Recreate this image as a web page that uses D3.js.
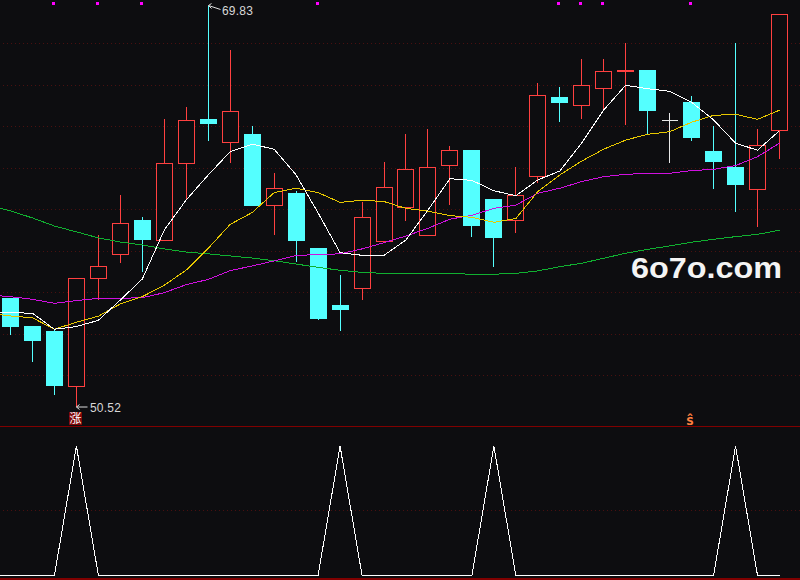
<!DOCTYPE html>
<html>
<head>
<meta charset="utf-8">
<script src="https://cdn.jsdelivr.net/npm/d3@7/dist/d3.min.js"></script>
<style>
html,body{margin:0;padding:0;background:#0d0d10;overflow:hidden;}
svg{display:block;}
</style>
</head>
<body>
<svg width="800" height="580"></svg>
<script>
const opens=[55.70,54.39,54.11,51.47,56.68,57.83,59.50,58.51,62.21,64.36,63.22,63.64,60.19,60.80,58.15,55.36,56.19,58.46,60.09,58.75,62.14,62.87,60.47,59.47,61.59,65.42,65.01,65.82,66.63,66.72,64.30,65.18,62.82,62.05,60.96,63.80];
const highs=[55.70,54.39,54.23,56.70,58.78,60.71,59.65,64.41,64.99,69.83,67.69,64.03,61.77,60.90,58.15,56.90,60.37,62.30,63.69,63.93,63.10,62.87,60.47,62.10,66.10,65.91,67.30,67.30,68.07,66.72,64.70,65.52,64.03,68.03,63.93,69.41];
const lows=[54.01,52.68,51.08,50.52,55.69,57.45,57.01,58.51,60.56,63.32,62.25,60.22,58.79,57.48,54.69,54.17,55.69,58.46,59.50,58.75,60.27,58.73,57.24,58.88,61.33,64.22,64.41,64.80,64.12,63.69,62.25,63.35,61.04,59.89,59.21,62.44];
const closes=[54.35,53.68,51.52,56.70,57.25,59.34,58.54,62.23,64.30,64.17,64.74,60.22,61.03,58.51,54.74,55.17,59.63,61.08,61.94,62.04,62.86,59.26,58.64,60.69,65.51,65.14,65.99,66.66,66.72,64.75,64.30,63.45,62.34,61.19,63.10,69.41];

// moving averages: first value sits one bar left of the screen
const ma5=[55.04,55.04,55.01,54.24,54.37,54.67,55.65,56.66,59.02,60.47,61.67,62.79,63.15,62.91,61.67,59.84,57.93,57.80,57.80,58.54,59.98,61.49,61.41,60.91,60.67,61.43,61.86,63.21,64.80,65.99,65.82,65.70,65.17,64.32,63.20,62.86,63.80];
const ma10=[55.02,54.88,54.79,54.24,54.58,54.87,55.46,55.81,56.36,57.09,58.14,59.29,59.86,60.82,61.03,60.82,60.35,60.45,60.39,60.06,59.93,59.71,59.63,59.39,59.57,60.87,61.67,62.34,62.91,63.35,63.63,63.75,64.21,64.54,64.59,64.35,64.79];
const ma20=[55.89,55.81,55.68,55.49,55.62,55.73,55.73,55.76,56.00,56.39,56.64,57.06,57.29,57.53,57.79,57.84,57.87,58.11,58.41,58.73,59.10,59.54,59.73,60.06,60.22,60.79,61.03,61.35,61.59,61.70,61.75,61.75,61.88,61.94,62.12,62.55,63.20];
const ma60=[60.22,59.94,59.60,59.21,58.93,58.64,58.44,58.30,58.11,57.96,57.87,57.77,57.67,57.54,57.38,57.22,57.08,56.98,56.93,56.93,56.90,56.92,56.89,56.89,56.93,57.05,57.25,57.42,57.66,57.90,58.09,58.25,58.43,58.57,58.70,58.81,59.01];

// lower panel signal, same leading value
const signal=[0,0,0,0,1,0,0,0,0,0,0,0,0,0,0,0,1,0,0,0,0,0,0,1,0,0,0,0,0,0,0,0,0,0,1,0,0];

const priceGrid=[52,54,56,58,60,62,64,66,68];
const signalGrid=[0.5];
const dotBars=[2,4,6,14,25,26,27,31];
const bg='#0d0d10', up='#ff4040', down='#54ffff';

const svg=d3.select('svg');
const xScale=d3.scaleLinear().domain([0,35]).range([10.5,779.5]);
const yScale=d3.scaleLinear().domain([50.52,69.83]).range([406.5,5.5]);
const ySignal=d3.scaleLinear().domain([0,1]).range([575.5,446]);

// snap to pixel centres so the marks stay aliased like the screenshot
const px=v=>Math.floor(v)+0.5;
const bx=i=>px(xScale(i));
const by=v=>px(yScale(v));

const dotted=(g,vals,scale)=>g.selectAll('line').data(vals).enter().append('line')
     .attr('x1',3).attr('x2',800)
     .attr('y1',d=>px(scale(d))).attr('y2',d=>px(scale(d)))
     .attr('stroke','#4a1010')
     .attr('stroke-dasharray','1 3');

const root=svg.append('g').attr('shape-rendering','crispEdges');
root.append('rect').attr('width',800).attr('height',580).attr('fill',bg);
dotted(root.append('g'),priceGrid,yScale);
dotted(root.append('g'),signalGrid,ySignal);

// panel borders
root.append('line').attr('x1',0).attr('x2',800).attr('y1',426.5).attr('y2',426.5).attr('stroke','#800000');
root.append('line').attr('x1',0).attr('x2',800).attr('y1',578.5).attr('y2',578.5).attr('stroke','#800000').attr('stroke-width',2);

/* candles */
const candleColor=i=>closes[i]>opens[i]?up:(closes[i]<opens[i]?down:'#e8e8e8');
const bars=root.append('g').selectAll('g').data(d3.range(opens.length)).enter().append('g');

bars.append('line')
     .attr('x1',bx).attr('x2',bx)
     .attr('y1',i=>by(highs[i])).attr('y2',i=>by(d3.max([opens[i],closes[i]])))
     .attr('stroke',candleColor);
bars.append('line')
     .attr('x1',bx).attr('x2',bx)
     .attr('y1',i=>by(d3.min([opens[i],closes[i]]))).attr('y2',i=>by(lows[i]))
     .attr('stroke',candleColor);

bars.filter(i=>closes[i]>opens[i]).append('rect')
     .attr('x',i=>bx(i)-8).attr('width',16)
     .attr('y',i=>by(closes[i])).attr('height',i=>by(opens[i])-by(closes[i]))
     .attr('fill',bg).attr('stroke',up);
bars.filter(i=>closes[i]<opens[i]).append('rect')
     .attr('x',i=>bx(i)-8.5).attr('width',17)
     .attr('y',i=>by(opens[i])-0.5).attr('height',i=>by(closes[i])-by(opens[i])+1)
     .attr('fill',down);
bars.filter(i=>closes[i]===opens[i]).append('line')
     .attr('x1',i=>bx(i)-8).attr('x2',i=>bx(i)+8)
     .attr('y1',i=>by(opens[i])).attr('y2',i=>by(opens[i]))
     .attr('stroke',candleColor);

/* ma lines */
const maLine=d3.line().x((d,i)=>xScale(i-1)).y(d=>yScale(d));
const series=[[ma60,'#10b030'],[ma20,'#d010e0'],[ma10,'#e8c800'],[ma5,'#ffffff']];
root.append('g').selectAll('path').data(series).enter().append('path')
     .attr('d',d=>maLine(d[0]))
     .attr('fill','none')
     .attr('stroke',d=>d[1]);

/* lower panel */
const signalLine=d3.line().x((d,i)=>xScale(i-1)).y(d=>ySignal(d));
root.append('path')
     .attr('d',signalLine(signal))
     .attr('fill','none')
     .attr('stroke','#ffffff');

/* magenta markers along the top */
root.append('g').selectAll('rect').data(dotBars).enter().append('rect')
     .attr('x',i=>bx(i)-2.5).attr('y',2).attr('width',3).attr('height',3)
     .attr('fill','#ff00ff');

/* high / low labels */
const hiX=bx(9), loX=bx(3);
const lab=svg.append('g');
const leader=(x1,y1,x2,y2)=>lab.append('line')
     .attr('x1',x1).attr('y1',y1).attr('x2',x2).attr('y2',y2)
     .attr('stroke','#dddddd');
leader(hiX,yScale(69.83),hiX+12,yScale(69.83)+4);
leader(hiX,yScale(69.83),hiX+3,yScale(69.83)-2);
leader(hiX,yScale(69.83),hiX+3,yScale(69.83)+3);
leader(loX,yScale(50.52)+0.5,loX+11,yScale(50.52)+0.5);
leader(loX,yScale(50.52)+0.5,loX+3,yScale(50.52)-2);
leader(loX,yScale(50.52)+0.5,loX+3,yScale(50.52)+3);

const priceLabel=(txt,x,y)=>lab.append('text')
     .attr('x',x).attr('y',y)
     .attr('font-family','Liberation Sans, sans-serif')
     .attr('font-size',12)
     .attr('letter-spacing',0.2)
     .attr('fill','#d8d8d8')
     .text(txt);
priceLabel(d3.format('.2f')(highs[9]),222,15);
priceLabel(d3.format('.2f')(lows[3]),90,412);

/* buy / sell tags */
lab.append('rect').attr('x',69).attr('y',412).attr('width',13).attr('height',13).attr('fill','#800808').attr('shape-rendering','crispEdges');
lab.append('text').attr('x',75.5).attr('y',423)
     .attr('text-anchor','middle')
     .attr('font-family','Noto Sans CJK SC')
     .attr('font-size',12)
     .attr('fill','#ffffff')
     .text('涨');
lab.append('text').attr('x',690).attr('y',425)
     .attr('text-anchor','middle')
     .attr('font-family','DejaVu Sans Mono')
     .attr('font-weight','bold')
     .attr('font-size',14)
     .attr('fill','#ff8040')
     .text('ŝ');

/* watermark */
lab.append('text')
     .attr('x',631).attr('y',278)
     .attr('font-family','Liberation Sans')
     .attr('font-weight','bold')
     .attr('font-size',29)
     .attr('textLength',151)
     .attr('lengthAdjust','spacingAndGlyphs')
     .attr('fill','#f4f4f4')
     .text('6o7o.com');
</script>
</body>
</html>
